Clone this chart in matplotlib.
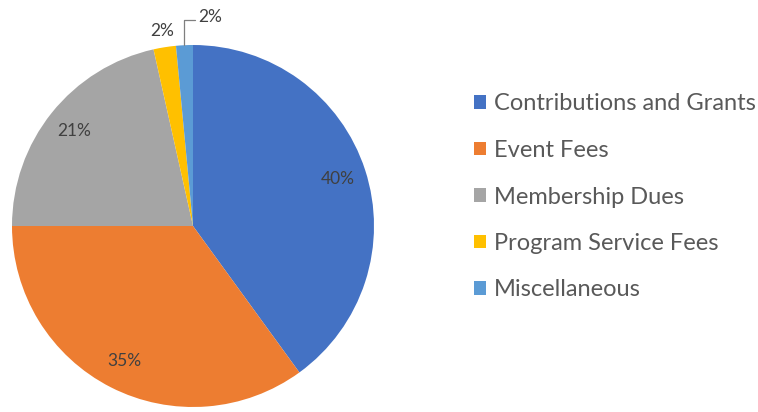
import matplotlib
matplotlib.use("Agg")
import matplotlib.pyplot as plt
import numpy as np

categories = ["Contributions and Grants", "Event Fees", "Membership Dues",
              "Program Service Fees", "Miscellaneous"]
values = [40, 35, 21.5, 2, 1.5]
pct_labels = ["40%", "35%", "21%", "2%", "2%"]
colors = ["#4472C4", "#ED7D31", "#A5A5A5", "#FFC000", "#5B9BD5"]

plt.rcParams['font.family'] = ['Lato', 'DejaVu Sans']

W, H = 758, 412
fig = plt.figure(figsize=(W / 100, H / 100), dpi=100)
fig.patch.set_facecolor("white")

cx, cy, R = 193, 226, 181
ax = fig.add_axes([(cx - R) / W, (H - cy - R) / H, 2 * R / W, 2 * R / H])
wedges, _ = ax.pie(values, colors=colors, startangle=90, counterclock=False,
                   radius=1, wedgeprops=dict(linewidth=0))
ax.set_xlim(-1, 1)
ax.set_ylim(-1, 1)
ax.set_aspect('equal')
ax.axis('off')

label_color = "#404040"
fs = 12.5
for i, w in enumerate(wedges):
    mid = np.deg2rad((w.theta1 + w.theta2) / 2)
    if i < 3:
        r = 0.84
        ax.text(r * np.cos(mid), r * np.sin(mid), pct_labels[i], ha='center',
                va='center', fontsize=fs, color=label_color)
    elif i == 3:
        r = 1.09
        ax.text(r * np.cos(mid), r * np.sin(mid), pct_labels[i], ha='center',
                va='center', fontsize=fs, color=label_color)
    else:
        px, py = np.cos(mid), np.sin(mid)
        ax.annotate(pct_labels[i], xy=(px, py), xytext=(px + 0.14, py + 0.155),
                    ha='center', va='center', fontsize=fs, color=label_color,
                    annotation_clip=False,
                    arrowprops=dict(arrowstyle='-', color='#7f7f7f', lw=0.9,
                                    shrinkA=0, shrinkB=0,
                                    connectionstyle="angle,angleA=0,angleB=90,rad=0",
                                    relpos=(0, 0.3)))

leg = fig.legend(wedges, categories, loc='center left',
                 bbox_to_anchor=(474 / W, (H - 197) / H), frameon=False,
                 fontsize=17, handlelength=0.5, handleheight=0.5,
                 handletextpad=0.35, labelspacing=1.08, borderpad=0,
                 borderaxespad=0)
for t in leg.get_texts():
    t.set_color("#595959")

fig.savefig("out.png", dpi=100)
